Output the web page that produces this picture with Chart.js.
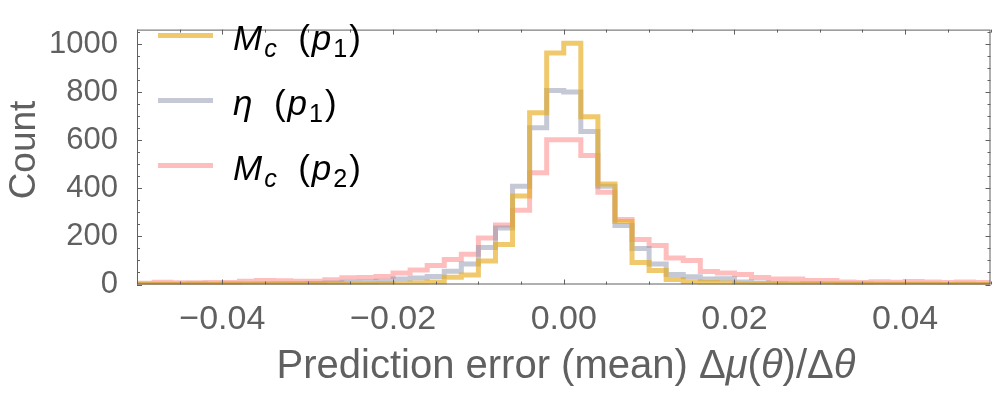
<!DOCTYPE html>
<html>
<head>
<meta charset="utf-8">
<script src="https://cdn.jsdelivr.net/npm/chart.js@4"></script>
<style>
  html, body { margin: 0; padding: 0; background: #fff; }
  #wrap { width: 1000px; height: 396px; position: relative; }
</style>
</head>
<body>
<div id="wrap"><canvas id="myChart" width="1000" height="396"></canvas></div>
<script>
// bin edges of the histogram (width 0.002)
const binEdges = [-0.050, -0.048, -0.046, -0.044, -0.042, -0.040, -0.038, -0.036, -0.034, -0.032,
  -0.030, -0.028, -0.026, -0.024, -0.022, -0.020, -0.018, -0.016, -0.014, -0.012,
  -0.010, -0.008, -0.006, -0.004, -0.002, 0.000, 0.002, 0.004, 0.006, 0.008,
  0.010, 0.012, 0.014, 0.016, 0.018, 0.020, 0.022, 0.024, 0.026, 0.028,
  0.030, 0.032, 0.034, 0.036, 0.038, 0.040, 0.042, 0.044, 0.046, 0.048, 0.050];

// counts per bin
const mcP1 = [0, 0, 0, 1, 0, 1, 0, 1, 1, 1,
  1, 2, 2, 2, 3, 3, 6, 10, 30, 39,
  98, 166, 368, 714, 963, 1003, 698, 418, 262, 91,
  58, 21, 11, 8, 6, 2, 2, 1, 1, 0,
  1, 0, 0, 0, 0, 0, 0, 0, 0, 0];
const etaP1 = [1, 1, 1, 2, 1, 2, 2, 2, 3, 3,
  4, 6, 9, 10, 14, 23, 27, 33, 55, 85,
  154, 235, 409, 652, 807, 801, 636, 409, 245, 150,
  85, 42, 32, 23, 24, 10, 6, 4, 3, 3,
  2, 2, 2, 1, 1, 1, 1, 0, 1, 0];
const mcP2 = [5, 9, 7, 7, 8, 8, 13, 17, 16, 13,
  14, 20, 28, 29, 33, 48, 60, 79, 104, 126,
  193, 247, 309, 465, 602, 602, 536, 384, 270, 187,
  162, 110, 100, 54, 48, 42, 29, 23, 23, 17,
  17, 10, 8, 11, 9, 12, 10, 8, 10, 8];

const xTicks = [-0.04, -0.02, 0.00, 0.02, 0.04];
const yTicks = [0, 200, 400, 600, 800, 1000];

const FONT = "'Liberation Sans', Arial, sans-serif";
const GREY = "#606060";

// turn the counts into step points at the bin edges
function stepPoints(counts) {
  return binEdges.map((e, i) => ({ x: e, y: counts[Math.min(i, counts.length - 1)] }));
}

const series = [
  { parts: [["M", "i"], ["c", "is"], ["  (", ""], ["p", "i"], ["1", "s"], [")", ""]], data: mcP1, color: "rgba(232,172,30,0.65)" },
  { parts: [["η", "i"], ["  (", ""], ["p", "i"], ["1", "s"], [")", ""]], data: etaP1, color: "rgba(140,145,172,0.5)" },
  { parts: [["M", "i"], ["c", "is"], ["  (", ""], ["p", "i"], ["2", "s"], [")", ""]], data: mcP2, color: "rgba(255,110,110,0.45)" },
];

// draws a string made of pieces, some italic, some subscript
function drawRich(ctx, parts, x, y, size, color, gap) {
  ctx.fillStyle = color;
  ctx.textBaseline = "alphabetic";
  ctx.textAlign = "left";
  parts.forEach(([t, st]) => {
    const it = st.indexOf("i") >= 0;
    const sub = st.indexOf("s") >= 0;
    const s = sub ? size * 0.72 : size;
    ctx.font = (it ? "italic " : "") + s + "px " + FONT;
    ctx.fillText(t, x, sub ? y + size * 0.22 : y);
    x += ctx.measureText(t).width + (gap || 0);
  });
  return x;
}
function richWidth(ctx, parts, size) {
  let w = 0;
  parts.forEach(([t, st]) => {
    const s = st.indexOf("s") >= 0 ? size * 0.72 : size;
    ctx.font = (st.indexOf("i") >= 0 ? "italic " : "") + s + "px " + FONT;
    w += ctx.measureText(t).width;
  });
  return w;
}

const framePlugin = {
  id: "frame",
  afterDatasetsDraw(chart) {
    const ctx = chart.ctx;
    const a = chart.chartArea;
    const xs = chart.scales.x, ys = chart.scales.y;
    ctx.save();
    ctx.strokeStyle = GREY;
    ctx.lineWidth = 1;
    ctx.strokeRect(a.left + 0.5, a.top + 0.5, a.right - a.left - 1, a.bottom - a.top - 1);
    // x ticks every 0.005, inward, bottom and top
    for (let k = -10; k <= 10; k++) {
      const px = Math.round(xs.getPixelForValue(k * 0.005)) + 0.5;
      const len = (k % 4 === 0) ? 5 : 3;
      ctx.beginPath();
      ctx.moveTo(px, a.bottom); ctx.lineTo(px, a.bottom - len);
      ctx.moveTo(px, a.top); ctx.lineTo(px, a.top + len);
      ctx.stroke();
    }
    // y ticks every 50, inward, left and right
    for (let v = 0; v <= 1050; v += 50) {
      const py = Math.round(ys.getPixelForValue(v)) + 0.5;
      const len = (v % 200 === 0) ? 5 : 3;
      ctx.beginPath();
      ctx.moveTo(a.left, py); ctx.lineTo(a.left + len, py);
      ctx.moveTo(a.right, py); ctx.lineTo(a.right - len, py);
      ctx.stroke();
    }
    ctx.restore();
  },
  afterDraw(chart) {
    const ctx = chart.ctx;
    ctx.save();
    // legend inside the plot
    series.forEach((s, i) => {
      const y = 35.5 + i * 65;
      ctx.strokeStyle = s.color;
      ctx.lineWidth = 5;
      ctx.beginPath();
      ctx.moveTo(158, y); ctx.lineTo(213, y);
      ctx.stroke();
      drawRich(ctx, s.parts, 233, y + 14, 35, "#000", 2);
    });
    // y title
    ctx.save();
    ctx.translate(35, 150);
    ctx.rotate(-Math.PI / 2);
    ctx.font = "37px " + FONT;
    ctx.fillStyle = GREY;
    ctx.textAlign = "center";
    ctx.fillText("Count", 0, 0);
    ctx.restore();
    // x title
    const xt = [["Prediction error (mean) Δ", ""], ["μ", "i"], ["(", ""], ["θ", "i"], [")/Δ", ""], ["θ", "i"]];
    const w = richWidth(ctx, xt, 40);
    drawRich(ctx, xt, 566 - w / 2, 378, 40, GREY);
    ctx.restore();
  }
};

const ctx = document.getElementById("myChart").getContext("2d");
const chart = new Chart(ctx, {
  type: "line",
  data: {
    datasets: series.map(s => ({
      data: stepPoints(s.data),
      borderColor: s.color,
      borderWidth: 5,
      stepped: "before",
      pointRadius: 0,
      fill: false,
      borderJoinStyle: "miter",
      borderCapStyle: "butt",
    })),
  },
  options: {
    responsive: false,
    animation: false,
    layout: { padding: { top: 0, right: 9.5, bottom: 0, left: 0 } },
    plugins: { legend: { display: false }, tooltip: { enabled: false } },
    scales: {
      x: {
        type: "linear",
        min: -0.05,
        max: 0.05,
        grid: { display: false },
        border: { display: false },
        afterBuildTicks: (sc) => { sc.ticks = xTicks.map(v => ({ value: v })); },
        afterFit: (sc) => { sc.height = 111.5; },
        ticks: {
          padding: 7,
          color: GREY,
          font: { family: FONT, size: 34 },
          maxRotation: 0,
          callback: (v) => v.toFixed(2).replace("-", "\u2212"),
        },
      },
      y: {
        min: 0,
        max: 1060,
        grid: { display: false },
        border: { display: false },
        afterBuildTicks: (sc) => { sc.ticks = yTicks.map(v => ({ value: v })); },
        afterFit: (sc) => { sc.width = 137; },
        ticks: {
          padding: 11,
          color: GREY,
          font: { family: FONT, size: 31 },
          callback: (v) => String(v),
        },
      },
    },
  },
  plugins: [framePlugin],
});
</script>
</body>
</html>
